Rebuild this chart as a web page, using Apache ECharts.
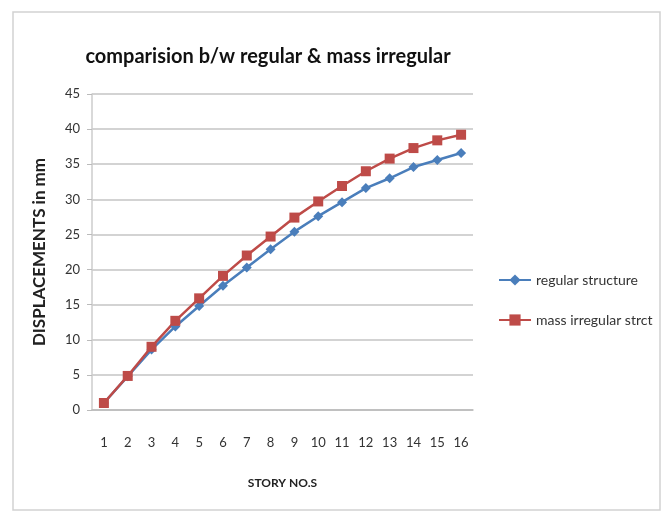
<!DOCTYPE html>
<html><head><meta charset="utf-8">
<script src="https://cdn.jsdelivr.net/npm/echarts@6/dist/echarts.min.js"></script>
<style>html,body{margin:0;padding:0;background:#fff}#c{width:662px;height:514px}</style>
</head><body><div id="c"></div>
<script>
const stories = ['1','2','3','4','5','6','7','8','9','10','11','12','13','14','15','16'];
const regularStructure = [1.0, 4.8, 8.6, 11.9, 14.8, 17.7, 20.3, 22.9, 25.4, 27.6, 29.6, 31.6, 33.0, 34.6, 35.6, 36.6];
const massIrregular = [1.0, 4.85, 9.0, 12.7, 15.9, 19.1, 22.0, 24.7, 27.4, 29.7, 31.9, 34.0, 35.8, 37.3, 38.4, 39.2];
const chart = echarts.init(document.getElementById('c'));
const font = 'Lato, "Open Sans", sans-serif';
chart.setOption({
  animation: false,
  backgroundColor: '#fff',
  graphic: [{type:'rect', shape:{x:13,y:12,width:647,height:498}, style:{fill:'none', stroke:'#d2d2d2', lineWidth:1.5}, silent:true}],
  title: {text:'comparision b/w regular & mass irregular', left:263, top:42, textAlign:'center',
    textStyle:{fontFamily:font, fontSize:20, fontWeight:'bold', color:'#111'}},
  grid: {left:92, right:189, top:94, bottom:104},
  legend: {orient:'vertical', left:493, top:268, itemGap:26, itemWidth:32, itemHeight:14,
    textStyle:{fontFamily:font, fontSize:14, color:'#333'},
    data:['regular structure', 'mass irregular strct']},
  xAxis: {type:'category', data:stories, boundaryGap:true,
    name:'STORY NO.S', nameLocation:'middle', nameGap:67,
    nameTextStyle:{fontFamily:font, fontSize:12, fontWeight:'bold', color:'#222'},
    axisLine:{lineStyle:{color:'#bbb', width:1.5}}, axisTick:{show:false},
    axisLabel:{fontFamily:font, fontSize:13, color:'#333', margin:26}},
  yAxis: {type:'value', min:0, max:45, interval:5,
    name:'DISPLACEMENTS in mm', nameLocation:'middle', nameGap:44, nameRotate:90,
    nameTextStyle:{fontFamily:font, fontSize:17, fontWeight:'bold', color:'#222'},
    axisLine:{show:true, lineStyle:{color:'#ccc', width:1.5}},
    axisTick:{show:true, length:5, lineStyle:{color:'#bbb'}},
    splitLine:{lineStyle:{color:'#c4c4c4', width:1.5}},
    axisLabel:{fontFamily:font, fontSize:13, color:'#333', margin:12}},
  series: [
    {name:'regular structure', type:'line', data:regularStructure, symbol:'diamond', symbolSize:10,
     itemStyle:{color:'#4A7EBB'}, lineStyle:{color:'#4A7EBB', width:2.5}},
    {name:'mass irregular strct', type:'line', data:massIrregular, symbol:'rect', symbolSize:10,
     itemStyle:{color:'#BE4B48'}, lineStyle:{color:'#BE4B48', width:2.5}}
  ]
});
</script></body></html>
